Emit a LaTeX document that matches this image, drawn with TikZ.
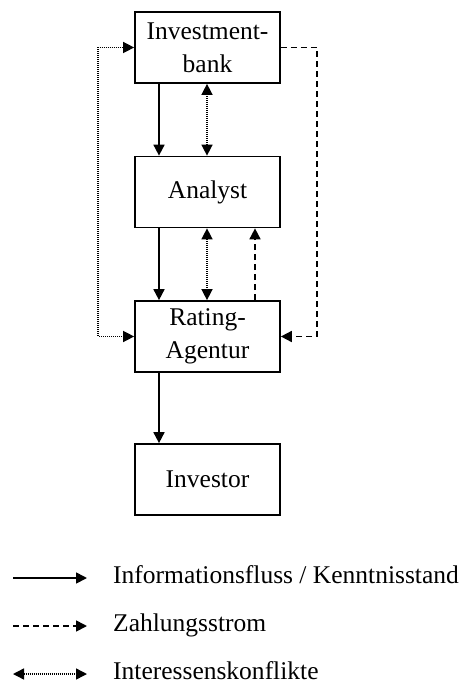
\documentclass[tikz,border=0pt]{standalone}
\usepackage{fontspec}
\setmainfont{Liberation Serif}
\usetikzlibrary{arrows.meta}
\tikzset{
  box/.style={draw, line width=1.7pt, minimum width=145pt, minimum height=71pt, inner sep=0pt, align=center, font=\fontsize{25.5}{33}\selectfont},
  lbl/.style={anchor=base west, inner sep=0pt, font=\fontsize{25.5}{33}\selectfont},
  info/.style={line width=1.7pt, -{Triangle[length=11pt,width=11pt]}},
  pay/.style={line width=1.7pt, dash pattern=on 6pt off 4pt, -{Triangle[length=11pt,width=11pt]}},
  conf/.style={line width=1.4pt, dash pattern=on 1pt off 1pt, {Triangle[length=11pt,width=11pt]}-{Triangle[length=11pt,width=11pt]}}
}
\begin{document}
\begin{tikzpicture}[x=1pt,y=-1pt]
\useasboundingbox (0,0) rectangle (464,684);
\node[box] (ib) at (207.5,47.5) {Investment-\\bank};
\node[box] (an) at (207.5,192) {Analyst};
\node[box] (ra) at (207.5,336.5) {Rating-\\Agentur};
\node[box] (iv) at (207.5,479.5) {Investor};
\coordinate (c1) at (159,0);
\coordinate (c2) at (207,0);
\coordinate (c3) at (255,0);
\coordinate (cl) at (98,0);
\coordinate (cr) at (317,0);
% vertical connectors
\draw[info] (ib.south -| c1) -- (an.north -| c1);
\draw[conf] (ib.south -| c2) -- (an.north -| c2);
\draw[info] (an.south -| c1) -- (ra.north -| c1);
\draw[conf] (an.south -| c2) -- (ra.north -| c2);
\draw[pay] (ra.north -| c3) -- (an.south -| c3);
\draw[info] (ra.south -| c1) -- (iv.north -| c1);
% side loops
\draw[conf] (ra.west) -- (ra.west -| cl) -- (ib.west -| cl) -- (ib.west);
\draw[pay] (ib.east) -- (ib.east -| cr) -- (ra.east -| cr) -- (ra.east);
% legend
\node[lbl] (t1) at (113,583) {Informationsfluss / Kenntnisstand};
\node[lbl] (t2) at (113,631) {Zahlungsstrom};
\node[lbl] (t3) at (113,679) {Interessenskonflikte};
\coordinate (a1) at (13,578);
\coordinate (b1) at (87,578);
\coordinate (a2) at (13,626);
\coordinate (b2) at (87,626);
\coordinate (a3) at (13,674);
\coordinate (b3) at (87,674);
\draw[info] (a1) -- (b1);
\draw[pay] (a2) -- (b2);
\draw[conf] (a3) -- (b3);
\end{tikzpicture}
\end{document}
